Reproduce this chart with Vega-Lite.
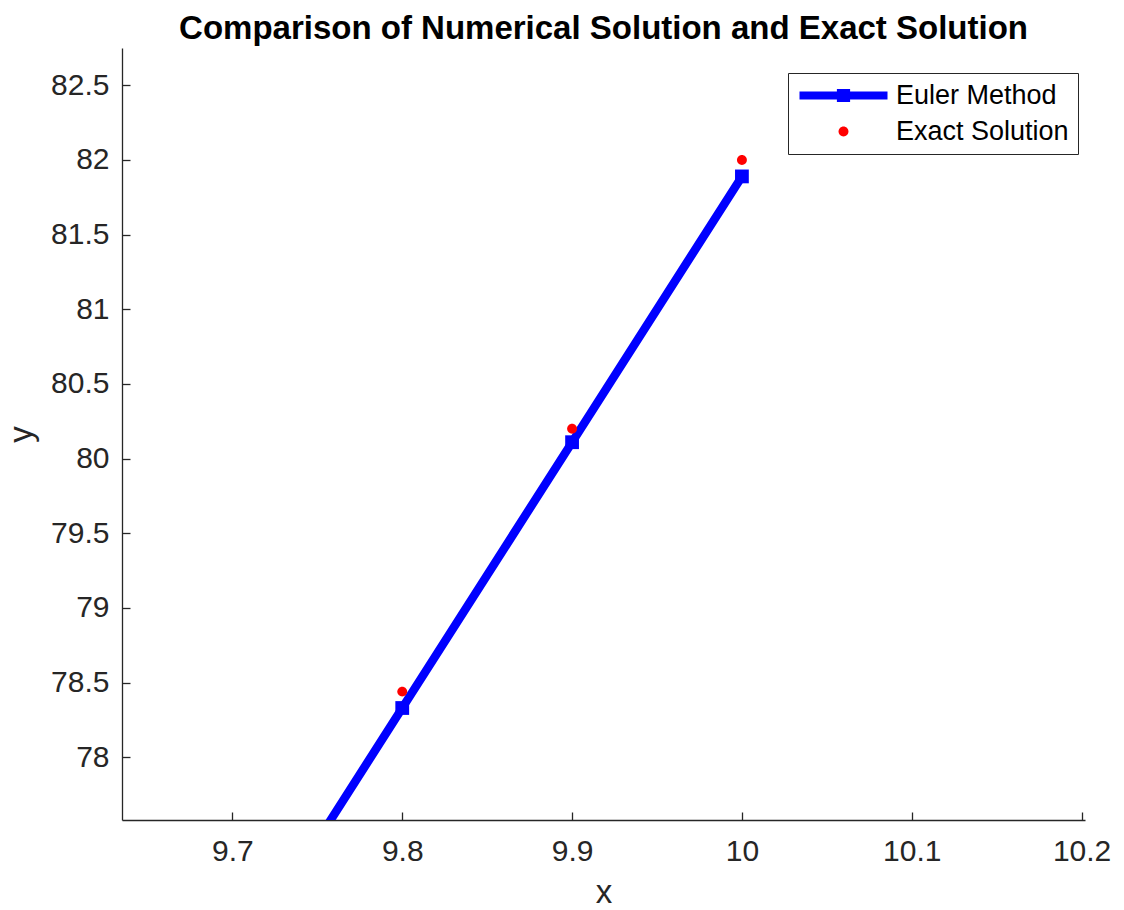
{
  "$schema": "https://vega.github.io/schema/vega-lite/v6.json",
  "width": 963,
  "height": 772,
  "autosize": {"type": "none"},
  "padding": {"left": 122, "top": 48, "right": 39, "bottom": 90},
  "background": "white",
  "title": {
    "text": "Comparison of Numerical Solution and Exact Solution",
    "font": "Liberation Sans",
    "fontSize": 33,
    "fontWeight": "bold",
    "color": "#000000",
    "anchor": "middle",
    "offset": 2
  },
  "config": {
    "view": {"stroke": null},
    "axis": {
      "grid": false,
      "domainColor": "#262626",
      "tickColor": "#262626",
      "labelColor": "#262626",
      "titleColor": "#262626",
      "labelFont": "Liberation Sans",
      "titleFont": "Liberation Sans",
      "labelFontSize": 30,
      "titleFontSize": 33,
      "titleFontWeight": "normal",
      "domainWidth": 1.3,
      "tickWidth": 1.3
    }
  },
  "data": {
    "values": [
      {"x": 9.7, "y": 76.55, "series": "Euler Method"},
      {"x": 9.8, "y": 78.33, "series": "Euler Method"},
      {"x": 9.9, "y": 80.11, "series": "Euler Method"},
      {"x": 10.0, "y": 81.89, "series": "Euler Method"},
      {"x": 9.7, "y": 76.7, "series": "Exact Solution"},
      {"x": 9.8, "y": 78.44, "series": "Exact Solution"},
      {"x": 9.9, "y": 80.2, "series": "Exact Solution"},
      {"x": 10.0, "y": 82.0, "series": "Exact Solution"}
    ]
  },
  "encoding": {
    "x": {
      "field": "x",
      "type": "quantitative",
      "scale": {"domain": [9.635, 10.202], "nice": false, "zero": false},
      "axis": {
        "title": "x",
        "values": [9.7, 9.8, 9.9, 10.0, 10.1, 10.2],
        "format": ".1~f",
        "tickSize": -8,
        "labelPadding": 24,
        "titlePadding": 10
      }
    },
    "y": {
      "field": "y",
      "type": "quantitative",
      "scale": {"domain": [77.58, 82.75], "nice": false, "zero": false},
      "axis": {
        "title": "y",
        "values": [78, 78.5, 79, 79.5, 80, 80.5, 81, 81.5, 82, 82.5],
        "format": ".1~f",
        "tickSize": -8,
        "labelPadding": 21,
        "titlePadding": 12
      }
    }
  },
  "layer": [
    {
      "transform": [{"filter": "datum.series === 'Euler Method'"}],
      "mark": {"type": "line", "color": "#0000FF", "strokeWidth": 8.5, "clip": true}
    },
    {
      "transform": [{"filter": "datum.series === 'Euler Method'"}],
      "mark": {"type": "point", "shape": "square", "filled": true, "opacity": 1, "color": "#0000FF", "size": 190, "clip": true}
    },
    {
      "transform": [{"filter": "datum.series === 'Exact Solution'"}],
      "mark": {"type": "point", "filled": true, "opacity": 1, "size": 484, "strokeWidth": 0, "clip": true},
      "encoding": {
        "color": {
          "field": "series",
          "type": "nominal",
          "scale": {"domain": ["Euler Method", "Exact Solution"], "range": ["#0000FF", "#FF0000"]},
          "legend": {
            "title": null,
            "orient": "none",
            "legendX": 666,
            "legendY": 25,
            "padding": 9,
            "strokeColor": "#262626",
            "fillColor": "white",
            "labelFont": "Liberation Sans",
            "labelFontSize": 27,
            "labelColor": "#000000",
            "labelLimit": 0,
            "symbolSize": 484,
            "symbolOffset": 33,
            "labelOffset": 39,
            "rowPadding": 8,
            "symbolStrokeWidth": 0
          }
        },
        "shape": {
          "field": "series",
          "type": "nominal",
          "scale": {
            "domain": ["Euler Method", "Exact Solution"],
            "range": ["M-4,-0.36H4V0.36H-4Z M-0.6,-0.6H0.6V0.6H-0.6Z", "M-0.45,0A0.45,0.45 0 1,0 0.45,0A0.45,0.45 0 1,0 -0.45,0Z"]
          },
          "legend": {
            "title": null,
            "orient": "none",
            "legendX": 666,
            "legendY": 25,
            "padding": 9,
            "strokeColor": "#262626",
            "fillColor": "white",
            "labelFont": "Liberation Sans",
            "labelFontSize": 27,
            "labelColor": "#000000",
            "labelLimit": 0,
            "symbolSize": 484,
            "symbolOffset": 33,
            "labelOffset": 39,
            "rowPadding": 8,
            "symbolStrokeWidth": 0
          }
        }
      }
    }
  ]
}
